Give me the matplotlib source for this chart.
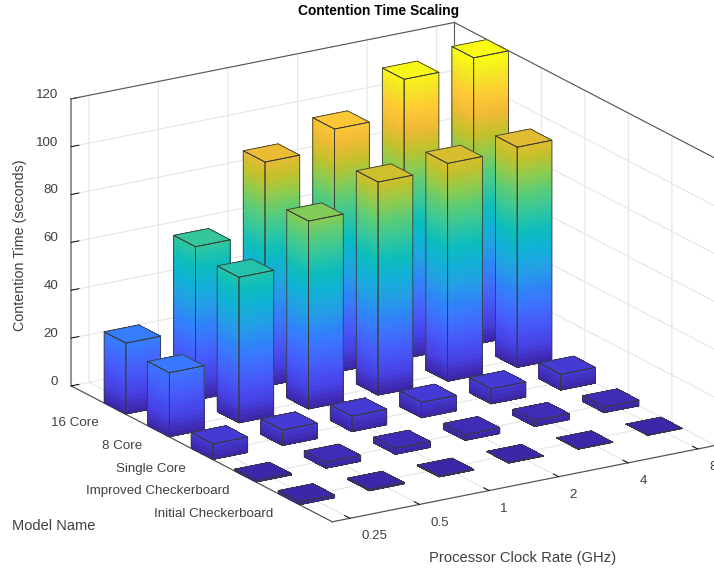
import matplotlib
matplotlib.use("Agg")
import matplotlib.pyplot as plt
import numpy as np
from matplotlib.colors import LinearSegmentedColormap
from mpl_toolkits.mplot3d.art3d import Poly3DCollection

plt.rcParams['font.family'] = ['Liberation Sans', 'DejaVu Sans']
plt.rcParams['grid.color'] = '#e6e6e6'
plt.rcParams['grid.linewidth'] = 0.8

models = ['16 Core', '8 Core', 'Single Core', 'Improved Checkerboard', 'Initial Checkerboard']
clocks = ['0.25', '0.5', '1', '2', '4', '8']
ztick_vals = [0, 20, 40, 60, 80, 100, 120]

core16 = [29.7, 64.2, 93.8, 101.8, 116.8, 120.0]
core8 = [26.8, 60.9, 78.6, 89.1, 91.1, 92.1]
single = [6.5, 6.5, 6.5, 6.5, 6.3, 6.6]
improved = [0.7, 2.5, 2.5, 2.4, 2.5, 2.4]
initial = [1.2, 0.6, 0.3, 0.2, 0.1, 0.05]
values = [core16, core8, single, improved, initial]

# matlab parula, every few entries
parula = [(.2422, .1504, .6603), (.2783, .2559, .8991), (.2795, .3447, .9717), (.2440, .4358, .9988),
          (.1786, .5289, .9682), (.1380, .6276, .8973), (.0689, .6948, .8394), (.0433, .7411, .7394),
          (.1938, .7758, .6251), (.3406, .8008, .4789), (.5616, .7942, .3045), (.7738, .7598, .1646),
          (.9393, .7288, .2100), (.9952, .7893, .2028), (.9610, .8890, .1537), (.9769, .9839, .0805)]
cmap = LinearSegmentedColormap.from_list('parula', parula, N=64)

bar_w = 0.25
edge = (0.22, 0.22, 0.22)
axis_col = '#555555'
text_col = '#404040'
tick_size = 9.6

fig = plt.figure(figsize=(7.14, 5.71), dpi=100)
S = 714.1
ax = fig.add_axes([26.6 / 714, -67.85 / 571, S / 714, S / 571], projection='3d', proj_type='ortho')
ax.view_init(elev=18.79, azim=-31.75)
ax.set_box_aspect((496.6, 451.0, 303.5))
ax.computed_zorder = False

rlim = (-1, 5)
clim = (-0.254, 5.254)
ax.set_xlim(*rlim)
ax.set_ylim(*clim)
ax.set_zlim(0, 120)

ax.set_xticks(range(len(models)), labels=models, ha='right', va='center', fontsize=tick_size, color=text_col)
ax.set_yticks(range(len(clocks)), labels=clocks, ha='left', va='center', fontsize=tick_size, color=text_col)
ax.set_zticks(ztick_vals, labels=[str(v) for v in ztick_vals], ha='right', va='baseline',
              fontsize=tick_size, color=text_col)
ax.tick_params(axis='x', pad=3)
ax.tick_params(axis='z', pad=-2.6)

for axis in (ax.xaxis, ax.yaxis, ax.zaxis):
    axis.set_pane_color((1, 1, 1, 1))
    axis.pane.set_edgecolor((1, 1, 1, 0))
    axis.line.set_color(axis_col)
    axis.line.set_linewidth(0.9)
    axis._axinfo['tick']['inward_factor'] = 0.0
    axis._axinfo['tick']['outward_factor'] = 0.25
    axis._axinfo['tick']['linewidth'] = {True: 0.7, False: 0.5}
    axis._axinfo['tick']['color'] = axis_col
ax.zaxis.set_ticks_position('lower')
ax.zaxis.line.set_color('#808080')
ax.zaxis.line.set_linewidth(1.2)

# box lines at the back
ax.plot([rlim[0]] * 2, clim, [120, 120], color=axis_col, lw=0.8, zorder=1)
ax.plot([rlim[0]] * 2, [clim[1]] * 2, [0, 120], color=axis_col, lw=0.8, zorder=1)
ax.plot(rlim, [clim[1]] * 2, [120, 120], color=axis_col, lw=0.8, zorder=1)

levels = np.linspace(0, 120, 65)
z_order = 2
# back row first, far clock first, so nearer bars paint over
for r in range(len(models)):
    for c in range(len(clocks) - 1, -1, -1):
        h = values[r][c]
        zs = np.append(levels[levels < h], h)
        r0, r1, c0, c1 = r - bar_w, r + bar_w, c - bar_w, c + bar_w
        polys = []
        cols = []
        for z0, z1 in zip(zs[:-1], zs[1:]):
            col = cmap((z0 + z1) / 2 / 120)
            polys.append([(r0, c0, z0), (r1, c0, z0), (r1, c0, z1), (r0, c0, z1)])
            cols.append(col)
            polys.append([(r1, c0, z0), (r1, c1, z0), (r1, c1, z1), (r1, c0, z1)])
            cols.append(col)
        top = [(r0, c0, h), (r1, c0, h), (r1, c1, h), (r0, c1, h)]
        polys.append(top)
        cols.append(cmap(h / 120))
        # no antialiasing here, it leaves stripes where the slices meet
        ax.add_collection3d(Poly3DCollection(polys, facecolors=cols, edgecolors='none', linewidths=0,
                                             antialiased=False, zorder=z_order))
        outline = [top,
                   [(r0, c0, 0), (r1, c0, 0), (r1, c0, h), (r0, c0, h)],
                   [(r1, c0, 0), (r1, c1, 0), (r1, c1, h), (r1, c0, h)]]
        ax.add_collection3d(Poly3DCollection(outline, facecolors=(0, 0, 0, 0), edgecolors=edge, linewidths=0.6,
                                             zorder=z_order + 1))
        z_order += 2

fig.text(378.5 / 714, 1 - 10.5 / 571, 'Contention Time Scaling', ha='center', va='center',
         fontsize=9.9, fontweight='bold', color='black')
fig.text(20 / 714, 1 - 245 / 571, 'Contention Time (seconds)', rotation=90, ha='center', va='center',
         fontsize=10.3, color=text_col)
fig.text(12 / 714, 1 - 526 / 571, 'Model Name', ha='left', va='center', fontsize=10.5, color=text_col)
fig.text(429 / 714, 1 - 558 / 571, 'Processor Clock Rate (GHz)', ha='left', va='center', fontsize=10.6,
         color=text_col)

fig.savefig('out.png', dpi=100)
